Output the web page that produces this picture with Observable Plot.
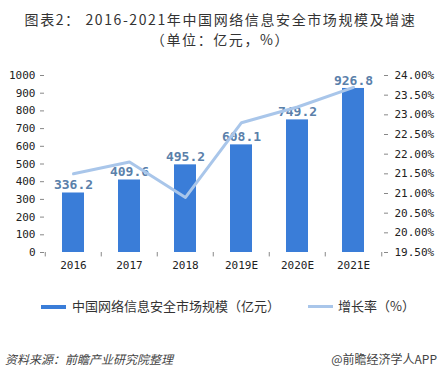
<!DOCTYPE html>
<html><head><meta charset="utf-8">
<script src="https://cdn.jsdelivr.net/npm/d3@7"></script>
<script src="https://cdn.jsdelivr.net/npm/@observablehq/plot@0.6"></script>
<style>
body{margin:0;background:#fff;}
#wrap{position:relative;width:441px;height:378px;overflow:hidden;font-family:"Noto Sans CJK SC","Noto Sans",sans-serif;color:#333;}
.t{position:absolute;white-space:nowrap;}
#chart{position:absolute;left:0;top:46px;}
</style></head><body>
<div id="wrap">
  <div class="t" style="left:0;width:441px;text-align:center;top:9px;font-size:14px;line-height:20px;letter-spacing:1.6px;color:#333;">图表2： 2016-2021年中国网络信息安全市场规模及增速</div>
  <div class="t" style="left:0;width:441px;text-align:center;top:29px;font-size:14px;line-height:20px;letter-spacing:1.6px;color:#333;">（单位：亿元，%）</div>
  <div id="chart"></div>
  <div class="t" style="left:41px;top:305px;width:25px;height:4px;background:#3a7dd8;"></div>
  <div class="t" style="left:72px;top:298px;font-size:13px;line-height:16px;">中国网络信息安全市场规模（亿元）</div>
  <div class="t" style="left:308px;top:305px;width:25px;height:3px;background:#a9c6ea;"></div>
  <div class="t" style="left:338px;top:298px;font-size:13px;line-height:16px;">增长率（%）</div>
  <div class="t" style="left:5px;top:351px;font-size:12px;line-height:16px;font-style:italic;color:#444;">资料来源：前瞻产业研究院整理</div>
  <div class="t" style="right:4px;top:351px;font-size:12px;line-height:16px;color:#444;">@前瞻经济学人APP</div>
</div>
<script>
const years = ["2016","2017","2018","2019E","2020E","2021E"];
const marketSize = [336.2, 409.6, 495.2, 608.1, 749.2, 926.8];
const growthRate = [21.5, 21.8, 20.9, 22.8, 23.2, 23.7];
const leftTicks = [0,100,200,300,400,500,600,700,800,900,1000];
const rightTicks = [19.5,20,20.5,21,21.5,22,22.5,23,23.5,24];

const pMin = 19.5, pMax = 24, yMax = 1000;
const toY = p => (p - pMin) / (pMax - pMin) * yMax;
const fromY = v => pMin + v / yMax * (pMax - pMin);

const bars = years.map((y, i) => ({year: y, value: marketSize[i]}));
const rates = years.map((y, i) => ({year: y, rate: growthRate[i], yv: toY(growthRate[i])}));

const W = 441, mL = 44, mR = 58;
const step = (W - mL - mR) / years.length;
const tickFont = "'DejaVu Sans Mono', monospace";

const chart = Plot.plot({
  width: W, height: 236,
  marginTop: 29, marginBottom: 30, marginLeft: mL, marginRight: mR,
  style: {fontFamily: tickFont, fontSize: "11px", color: "#333", background: "transparent"},
  x: {domain: years, paddingInner: 0.6, paddingOuter: 0.3},
  y: {domain: [0, yMax]},
  marks: [
    Plot.barY(bars, {x: "year", y: "value", fill: "#3a7dd8"}),
    Plot.text(bars, {x: "year", y: "value", text: d => d.value.toFixed(1), dy: -8,
      fill: "#5a80aa", fontWeight: "bold", fontSize: 13, fontFamily: tickFont}),
    Plot.line(rates, {x: "year", y: "yv", stroke: "#a9c6ea", strokeWidth: 3}),
    Plot.axisY({anchor: "left", ticks: leftTicks, tickFormat: d => String(d), tickSize: 4, tickPadding: 5, line: true, stroke: "#888", label: null, fill: "#222"}),
    Plot.axisY({anchor: "right", ticks: rightTicks.map(toY), tickFormat: v => fromY(v).toFixed(2) + "%",
      tickSize: 4, tickPadding: 7, line: true, stroke: "#888", label: null, fill: "#222"}),
    Plot.axisX({anchor: "bottom", tickSize: 0, tickPadding: 9, line: true, stroke: "#888", label: null, fill: "#222"}),
    Plot.ruleX(years, {x: d => d, y1: 0, y2: -25, dx: -step / 2, stroke: "#888"}),
    Plot.ruleX([years[years.length - 1]], {x: d => d, y1: 0, y2: -25, dx: step / 2, stroke: "#888"})
  ]
});
document.getElementById("chart").appendChild(chart);
</script>
</body></html>
